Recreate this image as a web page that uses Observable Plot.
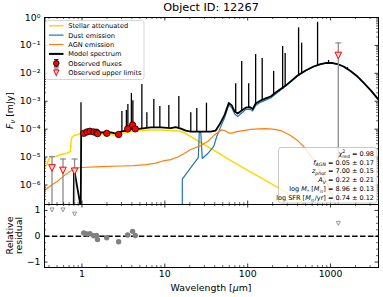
<!DOCTYPE html>
<html>
<head>
<meta charset="utf-8">
<script src="https://cdn.jsdelivr.net/npm/d3@7"></script>
<script src="https://cdn.jsdelivr.net/npm/@observablehq/plot@0.6"></script>
<style>
html,body{margin:0;padding:0;background:#fff;}
#chart{width:383px;height:297px;overflow:hidden;font-family:"DejaVu Sans",sans-serif;}
#chart svg{display:block;overflow:visible;}
</style>
</head>
<body>
<div id="chart"></div>
<script>
// ---------------- DATA (wavelength in µm, flux as log10 mJy) ----------------
const titleText = "Object ID: 12267";

const stellarLam = [0.358,0.379,0.395,0.411,0.486,0.558,0.641,0.727,0.737,0.758,0.801,0.895,0.946,0.978,1.117,1.283,1.694,2.235,2.568,2.792,3.389,3.892,5.138,6.782,8.951,11.80,14.75,16.94,20.57,27.17,41.14,62.43,100,143.5,229.8,329.9,435.5,543];
const stellarLogF = [-5.34,-5.27,-5.09,-5.02,-4.98,-4.91,-4.875,-4.80,-4.44,-4.30,-4.23,-4.19,-4.16,-4.19,-4.16,-4.14,-4.18,-4.19,-4.23,-4.19,-4.12,-4.09,-4.05,-4.03,-4.03,-4.05,-4.07,-4.12,-4.27,-4.48,-4.80,-5.13,-5.48,-5.74,-6.09,-6.34,-6.56,-6.85];

const dustLam = [16.25,16.25,20.57,25.34,26.06,27.17,28.31,32.96,38.93,42.33,47.30,52.84,59.06,64.18,69.70,75.74,84.68,94.64,105.7,114.9,124.7,143.5,164.8,189.2,217.4,249.9,287.3,329.9,400.2,500.1,624.1,758.3,895.2,1057,1213,1436,1741,2114,2500,3037,3788,4100];
const dustLogF = [-8,-5.79,-5.38,-5.02,-4.12,-4.12,-5.05,-4.875,-4.62,-4.265,-3.91,-3.58,-3.14,-3.23,-3.46,-3.55,-3.42,-3.30,-3.28,-3.35,-3.15,-3.03,-2.96,-2.885,-2.74,-2.60,-2.455,-2.31,-2.10,-1.907,-1.763,-1.670,-1.627,-1.634,-1.670,-1.760,-1.921,-2.118,-2.333,-2.602,-2.942,-3.05];

const agnLam = [0.358,0.423,0.500,0.590,0.697,0.801,0.870,1.0,1.694,2.951,4.233,5.902,7.792,9.460,11.80,14.35,17.91,20.57,27.17,32.96,38.93,44.76,48.63,52.84,59.06,64.18,73.67,89.52,108.7,135.7,164.8,200,249.9,329.9,400.2,473.4,574.4,716.6,895.2,1087,1213];
const agnLogF = [-6.18,-6.02,-5.88,-5.70,-5.54,-5.42,-5.39,-5.375,-5.34,-5.32,-5.305,-5.27,-5.215,-5.14,-5.09,-5.00,-4.84,-4.73,-4.59,-4.44,-4.23,-4.09,-4.025,-4.05,-4.14,-4.14,-4.09,-4.05,-4.01,-3.99,-3.98,-4.00,-4.05,-4.23,-4.41,-4.62,-4.95,-5.38,-5.91,-6.49,-6.92];

const modelLam = [0.358,0.790,0.801,0.954,0.962,0.978,1.0,1.117,1.283,1.475,1.694,2.235,2.568,2.792,2.951,3.389,3.892,4.474,5.138,6.782,8.951,11.80,13.57,15.59,17.91,20.57,27.17,35.83,41.14,47.30,52.84,59.06,64.18,69.70,75.74,84.68,94.64,105.7,114.9,124.7,143.5,164.8,189.2,217.4,249.9,287.3,329.9,400.2,500.1,624.1,758.3,895.2,1057,1213,1436,1741,2114,2500,3037,3788,4100];
const modelLogF = [-8,-8,-5.41,-6.70,-8,-4.12,-4.12,-4.10,-4.09,-4.10,-4.12,-4.12,-4.16,-4.12,-4.09,-4.05,-4.01,-4.00,-3.98,-3.94,-3.94,-3.96,-3.925,-3.98,-4.05,-4.09,-4.09,-4.09,-4.05,-3.76,-3.48,-3.065,-3.15,-3.37,-3.44,-3.33,-3.23,-3.21,-3.28,-3.08,-2.975,-2.90,-2.83,-2.69,-2.56,-2.44,-2.29,-2.08,-1.90,-1.756,-1.667,-1.624,-1.631,-1.667,-1.756,-1.918,-2.115,-2.33,-2.60,-2.94,-3.05];

// emission lines of the model spectrum
const lineLam      = [0.973,3.033,3.436,3.581,3.948,4.115,5.284,6.069,7.366,8.706,11.17,14.75,20.57,24.30,31.79,71.66,84.68,102.8,124.7,149.6,205.6,264.1,283.3,411.3,447.8,697.2,946.3,1603];
const linePeakLogF = [-3.05,-3.37,-3.33,-3.12,-2.72,-2.98,-2.40,-3.41,-2.94,-3.19,-3.15,-2.83,-3.41,-3.26,-3.07,-2.37,-1.58,-2.37,-1.33,-1.47,-1.93,-1.04,-1.29,-0.37,-0.92,-0.17,-1.54,-1.80];
const lineBaseLogF = [-4.12,-4.09,-4.05,-4.05,-4.01,-4.01,-3.98,-3.98,-3.94,-3.94,-3.94,-3.94,-4.09,-4.09,-4.09,-3.40,-3.33,-3.23,-3.08,-2.975,-2.76,-2.58,-2.47,-2.08,-2.01,-1.756,-1.65,-1.86];

// observed photometry
const obsLam   = [1.05,1.15,1.25,1.39,1.50,1.54,1.99,2.77,3.56,4.08,4.40];
const obsLogF  = [-4.15,-4.10,-4.075,-4.10,-4.11,-4.16,-4.15,-4.19,-3.99,-3.85,-3.99];
const obsResid = [0.13,0.09,0.10,0.02,0.03,-0.13,-0.06,-0.21,0.05,0.19,0.03];

// upper limits
const ulLam       = [0.435,0.59,0.814,1240];
const ulLogF      = [-5.39,-5.48,-5.51,-1.36];
const ulBarTopLogF= [-4.98,-5.07,-5.07,-0.91];
const ulResid     = [1.02,1.02,0.86,0.5];

// axes
const xDomain = [0.353, 3790];
const yDomain = [10 ** -6.7, 1];
const rDomain = [-1.21, 1.23];
const xMajor = [1, 10, 100, 1000];
const xMajorLabels = ["1", "10", "100", "1000"];
const yMajor = [1e-6, 1e-5, 1e-4, 1e-3, 1e-2, 1e-1, 1];
const rMajor = [-1, 0, 1];
const rMajorLabels = ["−1", "0", "1"];
const rMinor = [-0.75, -0.5, -0.25, 0.25, 0.5, 0.75];

const legendLabels = ["Stellar attenuated", "Dust emission", "AGN emission", "Model spectrum", "Observed fluxes", "Observed upper limits"];

// ---------------- BUILD ----------------
const FONT = "'DejaVu Sans', sans-serif";
const C_STELLAR = "#FFD700", C_DUST = "#1f77b4", C_AGN = "#ff7f0e", C_UL = "#8c8c8c";

const toPts = (lam, logF) => lam.map((l, i) => ({lam: l, f: 10 ** logF[i]}));
const stellar = toPts(stellarLam, stellarLogF);
const dust = toPts(dustLam, dustLogF);
const agn = toPts(agnLam, agnLogF);
const model = toPts(modelLam, modelLogF);
const lines = lineLam.map((l, i) => ({lam: l, peak: 10 ** linePeakLogF[i], base: 10 ** lineBaseLogF[i]}));
const obs = obsLam.map((l, i) => ({lam: l, f: 10 ** obsLogF[i], res: obsResid[i]}));
const ul = ulLam.map((l, i) => ({lam: l, f: 10 ** ulLogF[i], top: 10 ** ulBarTopLogF[i], res: ulResid[i]}));

const xMinor = [];
for (let e = -1; e <= 3; e++) for (let m = 2; m <= 9; m++) { const v = m * 10 ** e; if (v > xDomain[0] && v < xDomain[1]) xMinor.push(v); }
const yMinor = [];
for (let e = -7; e <= -1; e++) for (let m = 2; m <= 9; m++) { const v = m * 10 ** e; if (v >= yDomain[0] && v < 1) yMinor.push(v); }

const supMap = {"0":"⁰","1":"¹","2":"²","3":"³","4":"⁴","5":"⁵","6":"⁶","7":"⁷","8":"⁸","9":"⁹","-":"⁻"};
const sup = s => String(s).split("").map(c => supMap[c]).join("");

const W = 383, ML = 44, MR = 5, IW = W - ML - MR;
const MAJ = 3.5, MIN = 2;

function tickMarks(xMaj, xMin, yMaj, yMin, ih) {
  const s = {stroke: "black"};
  return [
    Plot.ruleX(xMaj, {x: d => d, insetTop: ih - MAJ, strokeWidth: 0.8, ...s}),
    Plot.ruleX(xMaj, {x: d => d, insetBottom: ih - MAJ, strokeWidth: 0.8, ...s}),
    Plot.ruleX(xMin, {x: d => d, insetTop: ih - MIN, strokeWidth: 0.6, ...s}),
    Plot.ruleX(xMin, {x: d => d, insetBottom: ih - MIN, strokeWidth: 0.6, ...s}),
    Plot.ruleY(yMaj, {y: d => d, insetRight: IW - MAJ, strokeWidth: 0.8, ...s}),
    Plot.ruleY(yMaj, {y: d => d, insetLeft: IW - MAJ, strokeWidth: 0.8, ...s}),
    Plot.ruleY(yMin, {y: d => d, insetRight: IW - MIN, strokeWidth: 0.6, ...s}),
    Plot.ruleY(yMin, {y: d => d, insetLeft: IW - MIN, strokeWidth: 0.6, ...s})
  ];
}

const capSym = {draw(ctx, size) { const r = Math.sqrt(size / Math.PI); ctx.moveTo(-r, 0); ctx.lineTo(r, 0); }};
const triDown = {draw(ctx, size) { const r = Math.sqrt(size / Math.PI); ctx.moveTo(-r, -r); ctx.lineTo(r, -r); ctx.lineTo(0, r); ctx.closePath(); }};

const styleObj = {fontFamily: FONT, fontSize: "9.4px", background: "white", color: "black", overflow: "visible"};

const MH = 204, MT = 17;
const main = Plot.plot({
  width: W, height: MH, marginTop: MT, marginBottom: 0, marginLeft: ML, marginRight: MR,
  style: styleObj,
  x: {type: "log", domain: xDomain, axis: null},
  y: {type: "log", domain: yDomain},
  marks: [
    Plot.line(stellar, {x: "lam", y: "f", stroke: C_STELLAR, strokeWidth: 1.5, clip: true}),
    Plot.line(dust, {x: "lam", y: "f", stroke: C_DUST, strokeWidth: 1.2, clip: true}),
    Plot.line(agn, {x: "lam", y: "f", stroke: C_AGN, strokeWidth: 1.2, clip: true}),
    Plot.line(model, {x: "lam", y: "f", stroke: "black", strokeWidth: 1.8, clip: true}),
    Plot.ruleX(lines, {x: "lam", y1: "base", y2: "peak", stroke: "black", strokeWidth: 1.3, clip: true}),
    Plot.ruleX(ul, {x: "lam", y1: 1e-9, y2: "top", stroke: C_UL, strokeWidth: 1.3, clip: true}),
    Plot.dot(ul, {x: "lam", y: "top", symbol: capSym, r: 3, fill: "none", stroke: C_UL, strokeWidth: 1.2}),
    Plot.dot(ul, {x: "lam", y: "f", symbol: triDown, r: 3.3, fill: "#ffd6d6", stroke: "red", strokeWidth: 1}),
    Plot.dot(obs, {x: "lam", y: "f", r: 3.2, fill: "red", stroke: "black", strokeWidth: 0.8}),
    ...tickMarks(xMajor, xMinor, yMajor, yMinor, MH - MT),
    Plot.axisY({ticks: yMajor, tickSize: 0, tickPadding: 4, label: null, tickFormat: d => "10" + sup(Math.round(Math.log10(d)))}),
    Plot.frame({stroke: "black", strokeWidth: 1})
  ]
});

const RH = 93, RB = 30;
const resid = Plot.plot({
  width: W, height: RH, marginTop: 0, marginBottom: RB, marginLeft: ML, marginRight: MR,
  style: styleObj,
  x: {type: "log", domain: xDomain},
  y: {domain: rDomain},
  marks: [
    Plot.ruleY([0], {stroke: "black", strokeWidth: 1.5, strokeDasharray: "5.5,2.4"}),
    Plot.dot(obs, {x: "lam", y: "res", r: 2.7, fill: "#808080"}),
    Plot.dot(ul, {x: "lam", y: "res", symbol: triDown, r: 2, fill: "white", stroke: "#808080", strokeWidth: 0.8}),
    ...tickMarks(xMajor, xMinor, rMajor, rMinor, RH - RB),
    Plot.axisX({ticks: xMajor, tickSize: 0, tickPadding: 3, label: null, tickFormat: d => xMajorLabels[xMajor.indexOf(d)]}),
    Plot.axisY({ticks: rMajor, tickSize: 0, tickPadding: 4, label: null, tickFormat: d => rMajorLabels[rMajor.indexOf(d)]}),
    Plot.frame({stroke: "black", strokeWidth: 1})
  ]
});

const chart = document.getElementById("chart");
chart.appendChild(main);
chart.appendChild(resid);

// ---------------- TEXT / LEGEND ----------------
function rich(g, x, y, segs, size, anchor, transform) {
  const t = g.append("text").attr("x", x).attr("y", y).attr("font-size", size)
    .attr("text-anchor", anchor || "start").attr("fill", "black").attr("font-family", FONT);
  if (transform) t.attr("transform", transform);
  let shift = 0;
  for (const s of segs) {
    const ts = t.append("tspan").text(s.t);
    let target = 0, fs = size;
    if (s.sub) { target = size * 0.28; fs = size * 0.72; }
    if (s.sup) { target = -size * 0.38; fs = size * 0.72; }
    if (fs !== size) ts.attr("font-size", fs);
    if (target - shift !== 0) ts.attr("dy", target - shift);
    shift = target;
    if (s.i) ts.attr("font-style", "italic");
    if (s.dx) ts.attr("dx", s.dx);
  }
  return t;
}

const gm = d3.select(main);
const cx = (ML + W - MR) / 2;
rich(gm, cx, 11.3, [{t: titleText}], 11.3, "middle");
rich(gm, 0, 0, [{t: "F", i: 1}, {t: "ν", sub: 1, i: 1}, {t: " [mJy]"}], 9.4, "middle", `translate(12.5,${(MT + MH) / 2}) rotate(-90)`);

// legend
const lg = gm.append("g");
lg.append("rect").attr("x", 45.5).attr("y", 20.5).attr("width", 98.5).attr("height", 59)
  .attr("rx", 2.5).attr("fill", "white").attr("fill-opacity", 0.8).attr("stroke", "#cccccc").attr("stroke-width", 0.8);
const lineStyles = [[C_STELLAR, 1.5], [C_DUST, 1.2], [C_AGN, 1.2], ["black", 2]];
legendLabels.forEach((lab, i) => {
  const cy = 25.7 + i * 9.4;
  if (i < 4) {
    lg.append("line").attr("x1", 49).attr("x2", 63.5).attr("y1", cy).attr("y2", cy)
      .attr("stroke", lineStyles[i][0]).attr("stroke-width", lineStyles[i][1]);
  } else if (i === 4) {
    lg.append("line").attr("x1", 56.3).attr("x2", 56.3).attr("y1", cy - 3.6).attr("y2", cy + 3.6).attr("stroke", "black").attr("stroke-width", 1);
    lg.append("line").attr("x1", 54).attr("x2", 58.6).attr("y1", cy - 3.6).attr("y2", cy - 3.6).attr("stroke", "black").attr("stroke-width", 1);
    lg.append("line").attr("x1", 54).attr("x2", 58.6).attr("y1", cy + 3.6).attr("y2", cy + 3.6).attr("stroke", "black").attr("stroke-width", 1);
    lg.append("circle").attr("cx", 56.3).attr("cy", cy).attr("r", 2.8).attr("fill", "red").attr("stroke", "black").attr("stroke-width", 0.8);
  } else {
    lg.append("line").attr("x1", 56.3).attr("x2", 56.3).attr("y1", cy - 3.8).attr("y2", cy + 3.8).attr("stroke", C_UL).attr("stroke-width", 1.2);
    lg.append("line").attr("x1", 54).attr("x2", 58.6).attr("y1", cy - 3.8).attr("y2", cy - 3.8).attr("stroke", C_UL).attr("stroke-width", 1.2);
    const r = 2.7;
    lg.append("path").attr("d", `M${56.3 - r},${cy - r}L${56.3 + r},${cy - r}L56.3,${cy + r}Z`).attr("fill", "#ffd6d6").attr("stroke", "red").attr("stroke-width", 1);
  }
  rich(lg, 68.3, cy + 2.5, [{t: lab}], 6.6, "start");
});

// fit results box
const tb = gm.append("g");
tb.append("rect").attr("x", 278.5).attr("y", 147.5).attr("width", 98.5).attr("height", 55.5)
  .attr("rx", 2.5).attr("fill", "white").attr("fill-opacity", 0.8).attr("stroke", "#bbbbbb").attr("stroke-width", 0.8);
const TS = 6.5, TX = 374;
const boxLines = [
  [{t: "χ", i: 1}, {t: "2", sup: 1}, {t: "red", sub: 1, dx: -TS * 0.72 * 0.636}, {t: " = 0.98"}],
  [{t: "f", i: 1}, {t: "AGN", sub: 1, i: 1}, {t: " = 0.05 ± 0.17"}],
  [{t: "z", i: 1}, {t: "phot", sub: 1, i: 1}, {t: " = 7.00 ± 0.15"}],
  [{t: "A", i: 1}, {t: "V", sub: 1, i: 1}, {t: " = 0.22 ± 0.21"}],
  [{t: "log "}, {t: "M", i: 1}, {t: "*", sub: 1}, {t: " ["}, {t: "M", i: 1}, {t: "⊙", sub: 1}, {t: "] = 8.96 ± 0.13"}],
  [{t: "log SFR ["}, {t: "M", i: 1}, {t: "⊙", sub: 1}, {t: "/yr] = 0.74 ± 0.12"}]
];
boxLines.forEach((segs, i) => rich(tb, TX, 155.8 + i * 8.8, segs, TS, "end"));

// residual panel labels
const gr = d3.select(resid);
const rc = (RH - RB) / 2;
rich(gr, 0, 0, [{t: "Relative"}], 9.4, "middle", `translate(12.5,${rc}) rotate(-90)`);
rich(gr, 0, 0, [{t: "residual"}], 9.4, "middle", `translate(21.5,${rc}) rotate(-90)`);
rich(gr, cx, 86.7, [{t: "Wavelength ["}, {t: "µ", i: 1}, {t: "m]"}], 9.4, "middle");
</script>
</body>
</html>
